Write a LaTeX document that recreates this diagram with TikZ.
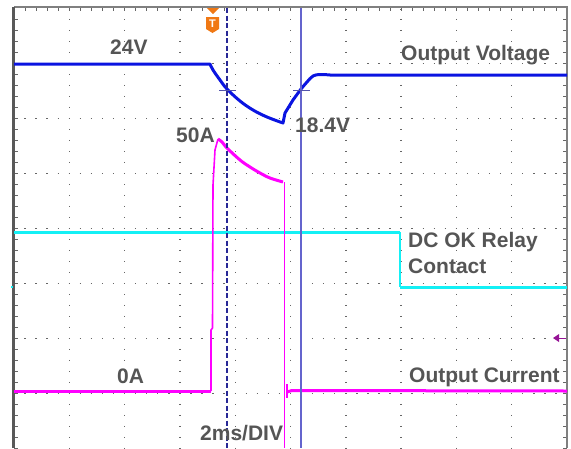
\documentclass[tikz,border=0pt]{standalone}
\usepackage{fontspec}
\setmainfont{Liberation Sans}
\usepackage{tikz}
\pgfdeclarelayer{background}
\pgfdeclarelayer{foreground}
\pgfsetlayers{background,main,foreground}
\definecolor{voltblue}{RGB}{10,20,225}
\definecolor{currmag}{RGB}{255,0,255}
\definecolor{relaycyan}{RGB}{20,240,245}
\definecolor{cursorblue}{RGB}{100,100,205}
\definecolor{cursornavy}{RGB}{40,40,150}
\definecolor{trigorange}{RGB}{240,120,20}
\definecolor{labelgray}{RGB}{85,85,85}
\definecolor{markpurple}{RGB}{150,20,150}

\begin{document}
\begin{tikzpicture}[x=1pt,y=-1pt,
  lbl/.style={text=labelgray,font=\bfseries\fontsize{21}{26}\selectfont,inner sep=0pt,anchor=base west},
  trace/.style={line width=3pt,line join=round},
  edge/.style={line width=1.6pt},
  griddots/.style={black!60,line width=1.4pt}]
\useasboundingbox (0,0) rectangle (571,448);
\begin{pgfonlayer}{background}
\foreach \i in {1,...,9}
  \draw[griddots,dash pattern=on 1.4pt off 9.6pt,dash phase=0.7pt] (14+55.3*\i,8.5) -- (14+55.3*\i,448);
\foreach \j in {1,...,7}
  \draw[griddots,dash pattern=on 1.4pt off 9.66pt,dash phase=0.7pt] (14,8.5+55*\j) -- (567,8.5+55*\j);
\foreach \k in {1,...,40}
  \draw[black!60,line width=0.8pt] (14,8.5+11*\k) -- (18,8.5+11*\k);
\foreach \k in {1,...,40}
  \draw[black!60,line width=0.8pt] (563,8.5+11*\k) -- (567,8.5+11*\k);
\foreach \k in {1,...,49}
  \draw[black!60,line width=0.8pt] (14+11.06*\k,7) -- (14+11.06*\k,11);
\draw[black!50,line width=1.3pt] (14,7) -- (567,7) -- (567,448);
\draw[black!65,line width=2.6pt] (13.5,6.5) -- (13.5,448);
\end{pgfonlayer}

\draw[trace,voltblue] (14,64) -- plot[smooth,tension=0.6] coordinates {(210,64) (213,70) (220,80) (227,89) (240,101) (253,110) (267,117) (283,123)}
  -- (285,113) -- (293,100) -- plot[smooth,tension=0.6] coordinates {(301,89) (307,82) (313,76) (320,74.5) (330,75)} -- (567,75);

\draw[trace,relaycyan] (14,232) -- (400,232);
\draw[edge,relaycyan] (400,232) -- (400,287);
\draw[trace,relaycyan] (400,287) -- (567,287);
\fill[relaycyan] (11,286) rectangle (13,288);

\draw[trace,currmag] (14,391) -- (211,391);
\draw[edge,currmag] (211,391) -- (211,330) -- (212.5,328) -- (213,185) -- (215,150) -- (218,139);
\draw[trace,currmag] plot[smooth,tension=0.6] coordinates {(218,139) (222,142) (227,148) (240,160) (250,167) (260,173) (270,178) (283,182)};
\draw[edge,currmag] (284.5,182) -- (284.5,448);
\draw[edge,currmag] (287,384) -- (287,398);
\draw[trace,currmag] (287,392) -- (292,390.5) -- (567,391);

\draw[cursornavy,line width=1.3pt,dash pattern=on 5pt off 2.5pt] (227,8) -- (227,448);
\draw[cursorblue,line width=1.3pt] (301,8) -- (301,448);
\draw[cursornavy!80,line width=0.8pt] (219,90) -- (236,90);
\draw[cursornavy!80,line width=0.8pt] (293,90) -- (310,90);

\begin{pgfonlayer}{foreground}
\fill[trigorange] (207,8) -- (219,8) -- (213,14) -- cycle;
\fill[trigorange] (206,17) -- (219,17) -- (219,29) -- (212.5,33) -- (206,29) -- cycle;
\node[text=white,font=\bfseries\fontsize{11}{11}\selectfont,inner sep=0pt] (trigT) at (212.5,24) {T};
\fill[markpurple] (553,338) -- (559,334) -- (559,342) -- cycle;
\draw[markpurple,line width=1pt] (558,338) -- (566,338);

\node[lbl] (lbl24) at (110,54) {24V};
\node[lbl] (lblvout) at (401,60) {Output Voltage};
\node[lbl] (lbl50) at (176,142) {50A};
\node[lbl] (lbl184) at (295,132) {18.4V};
\node[lbl,anchor=north west,align=left] (lblrelay) at (408,232) {DC OK Relay\\Contact};
\node[lbl] (lbl0a) at (117,383) {0A};
\node[lbl] (lbldiv) at (200,440) {2ms/DIV};
\node[lbl] (lbliout) at (409,382) {Output Current};
\end{pgfonlayer}
\end{tikzpicture}
\end{document}
